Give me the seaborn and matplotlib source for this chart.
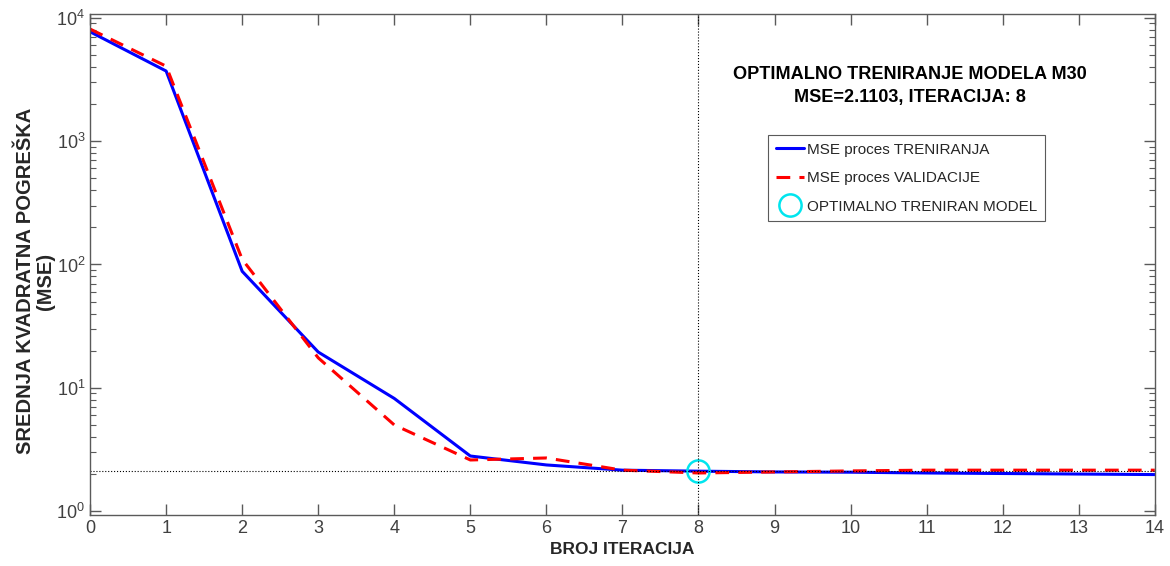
import numpy as np
import pandas as pd
import matplotlib
matplotlib.use("Agg")
import matplotlib.pyplot as plt
import seaborn as sns
from matplotlib.ticker import LogLocator, NullFormatter

# podaci procitani sa slike
iteracije = list(range(15))
mse_trening = [7700, 3700, 88, 19.5, 8.2, 2.8, 2.37, 2.15, 2.11, 2.08, 2.07, 2.04, 2.02, 2.0, 1.98]
mse_validacija = [8100, 4050, 110, 17.5, 5.0, 2.6, 2.7, 2.15, 2.04, 2.08, 2.12, 2.15, 2.15, 2.15, 2.15]
opt_iter = 8
opt_mse = 2.1103

df = pd.DataFrame({"iter": iteracije, "trening": mse_trening, "validacija": mse_validacija})

sns.set_style("ticks")
plt.rcParams['font.family'] = ['Liberation Sans', 'DejaVu Sans']
gray = '#5a5a5a'

fig = plt.figure(figsize=(11.7, 5.66), dpi=100)
ax = fig.add_axes([0.077, 0.090, 0.910, 0.885])

sns.lineplot(data=df, x="iter", y="trening", color='#0000ff', lw=2.2, ax=ax,
             label='MSE proces TRENIRANJA')
sns.lineplot(data=df, x="iter", y="validacija", color='#ff0000', lw=2.2, ax=ax,
             linestyle=(0, (4.5, 3)), label='MSE proces VALIDACIJE')
ax.plot([opt_iter], [opt_mse], 'o', ms=16, mfc='none', mec='#00e5ee', mew=1.8,
        label='OPTIMALNO TRENIRAN MODEL')

ax.axvline(opt_iter, color='black', lw=0.8, ls=':')
ax.axhline(opt_mse, color='black', lw=0.8, ls=':')

ax.set_yscale('log')
ax.set_xlim(0, 14)
ax.set_ylim(0.93, 10700)
ax.set_xticks(range(15))
ax.yaxis.set_major_locator(LogLocator(base=10, numticks=10))
ax.yaxis.set_minor_locator(LogLocator(base=10, subs=np.arange(2, 10), numticks=10))
ax.yaxis.set_minor_formatter(NullFormatter())
ax.tick_params(which='both', direction='in', top=True, right=True, colors=gray,
               labelcolor='#404040', labelsize=13)
ax.tick_params(which='major', length=8, width=1)
ax.tick_params(which='minor', length=4, width=0.8)
for s in ax.spines.values():
    s.set_color(gray)
    s.set_linewidth(1)

ax.set_xlabel('BROJ ITERACIJA', fontsize=12.5, fontweight='bold', color='#262626', labelpad=4)
ax.set_ylabel('SREDNJA KVADRATNA POGREŠKA\n(MSE)', fontsize=14.5, fontweight='bold',
              color='#262626', linespacing=1.05)
ax.yaxis.set_label_coords(-0.033, 0.467)

ax.text(0.770, 0.857, 'OPTIMALNO TRENIRANJE MODELA M30\nMSE=2.1103, ITERACIJA: 8',
        transform=ax.transAxes, ha='center', va='center', fontsize=13.1,
        fontweight='bold', color='black', linespacing=1.5)

leg = ax.legend(loc='upper left', bbox_to_anchor=(0.630, 0.774), fancybox=False,
                edgecolor=gray, framealpha=1, fontsize=11, handlelength=1.8,
                handletextpad=0.2, borderpad=0.5, labelspacing=0.95)
leg.get_frame().set_linewidth(0.8)

fig.savefig('out.png', dpi=100)
